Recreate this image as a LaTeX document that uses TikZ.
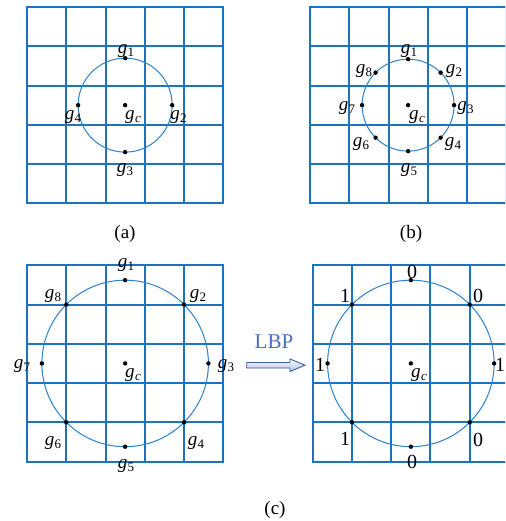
\documentclass[tikz,border=0pt]{standalone}
\usepackage{fontspec}
\setmainfont{Liberation Serif}
\definecolor{gridblue}{RGB}{30,115,190}
\definecolor{circblue}{RGB}{45,130,205}
\definecolor{lbpblue}{RGB}{70,110,195}
\definecolor{arrline}{RGB}{60,95,160}
\definecolor{arrfill}{RGB}{165,195,235}
\newcommand\gl[1]{\textit{g}\kern0.3pt\raisebox{-0.33ex}{\fontsize{13}{14}\selectfont #1}}
\newcommand\glc{\textit{g}\kern0.3pt\raisebox{-0.33ex}{\fontsize{13}{14}\selectfont\itshape c}}
\newcommand\mygrid[2]{%
  \foreach \i in {0,...,5} {
    \draw[gridline] ({round(#1+\i*39.25)},{round(#2)}) -- ({round(#1+\i*39.25)},{round(#2+196.25)});
    \draw[gridline] ({round(#1)},{round(#2+\i*39.25)}) -- ({round(#1+196.25)},{round(#2+\i*39.25)});
  }}
\begin{document}
\begin{tikzpicture}[x=1pt,y=-1pt,
  gridline/.style={draw=gridblue,line width=1.8pt,line cap=rect},
  circ/.style={draw=circblue,line width=1pt},
  dotpt/.style={circle,fill=black,inner sep=0pt,minimum size=4.4pt},
  lab/.style={inner sep=0pt,font=\fontsize{19}{21}\selectfont},
  numlab/.style={inner sep=0pt,font=\fontsize{20}{22}\selectfont},
  captext/.style={inner sep=0pt,font=\fontsize{19}{21}\selectfont}]
\clip (0,0) rectangle (505,521);
\fill[white] (0,0) rectangle (505,521);
% ---------- panel (a)
\mygrid{27}{7}
\coordinate (ca) at (125.15,105.15);
\draw[circ] (ca) circle (47);
\node[dotpt] (a1) at ([shift={(90:-47)}]ca) {};
\node[dotpt] (a2) at ([shift={(0:47)}]ca) {};
\node[dotpt] (a3) at ([shift={(90:47)}]ca) {};
\node[dotpt] (a4) at ([shift={(180:47)}]ca) {};
\node[dotpt] (ac) at (ca) {};
\node[lab] (la1) at (126,51) {\gl{1}};
\node[lab] (la2) at (178.5,117) {\gl{2}};
\node[lab] (la3) at (125,170) {\gl{3}};
\node[lab] (la4) at (73,117) {\gl{4}};
\node[lab] (lac) at (133,117) {\glc};
\node[captext] (capa) at (125,234) {(a)};
% ---------- panel (b)
\mygrid{310}{7}
\coordinate (cb) at (408.1,105.15);
\draw[circ] (cb) circle (46);
\foreach \k/\ang in {1/90,2/45,3/0,4/-45,5/-90,6/-135,7/180,8/135}{
  \node[dotpt] (b\k) at ([shift={({46*cos(\ang)},{-46*sin(\ang)})}]cb) {};
}
\node[dotpt] (bc) at (cb) {};
\node[lab] (lb1) at (409,51) {\gl{1}};
\node[lab] (lb2) at (454,71) {\gl{2}};
\node[lab] (lb3) at (465.5,108) {\gl{3}};
\node[lab] (lb4) at (453,144) {\gl{4}};
\node[lab] (lb5) at (409,170) {\gl{5}};
\node[lab] (lb6) at (361,144) {\gl{6}};
\node[lab] (lb7) at (347,108) {\gl{7}};
\node[lab] (lb8) at (364,71) {\gl{8}};
\node[lab] (lbc) at (417,117) {\glc};
\node[captext] (capb) at (411,234) {(b)};
% ---------- panel (c) left
\mygrid{27}{265.3}
\coordinate (cc) at (125.15,363.43);
\draw[circ] (cc) circle (83.26);
\foreach \k/\ang in {1/90,2/45,3/0,4/-45,5/-90,6/-135,7/180,8/135}{
  \node[dotpt] (c\k) at ([shift={({83.26*cos(\ang)},{-83.26*sin(\ang)})}]cc) {};
}
\node[dotpt] (ccc) at (cc) {};
\node[lab] (lc1) at (126,265) {\gl{1}};
\node[lab] (lc2) at (198,296) {\gl{2}};
\node[lab] (lc3) at (226,366) {\gl{3}};
\node[lab] (lc4) at (196,443) {\gl{4}};
\node[lab] (lc5) at (126,466) {\gl{5}};
\node[lab] (lc6) at (53,443) {\gl{6}};
\node[lab] (lc7) at (22,366) {\gl{7}};
\node[lab] (lc8) at (53,296) {\gl{8}};
\node[lab] (lcc) at (133,375) {\glc};
% ---------- panel (c) right
\mygrid{312.7}{265.3}
\coordinate (cd) at (410.85,363.43);
\draw[circ] (cd) circle (83.26);
\foreach \k/\ang in {1/90,2/45,3/0,4/-45,5/-90,6/-135,7/180,8/135}{
  \node[dotpt] (d\k) at ([shift={({83.26*cos(\ang)},{-83.26*sin(\ang)})}]cd) {};
}
\node[dotpt] (dc) at (cd) {};
\node[numlab] (ld1) at (412,272) {0};
\node[numlab] (ld2) at (478,296) {0};
\node[numlab] (ld3) at (500,365) {1};
\node[numlab] (ld4) at (478,440) {0};
\node[numlab] (ld5) at (412,462) {0};
\node[numlab] (ld6) at (345,439) {1};
\node[numlab] (ld7) at (320,365) {1};
\node[numlab] (ld8) at (345,296) {1};
\node[lab] (ldc) at (419,375) {\glc};
% ---------- LBP arrow
\node[inner sep=0pt,text=lbpblue,font=\fontsize{21}{23}\selectfont] (lbp) at (274,341.5) {LBP};
\shade[top color=white,bottom color=arrfill,draw=arrline,line width=0.9pt]
  (246.7,362.5) -- (290,362.5) -- (290,359) -- (305,365.2) -- (290,371.5) -- (290,368) -- (246.7,368) -- cycle;
\node[captext] (capc) at (275,510) {(c)};
\end{tikzpicture}
\end{document}
